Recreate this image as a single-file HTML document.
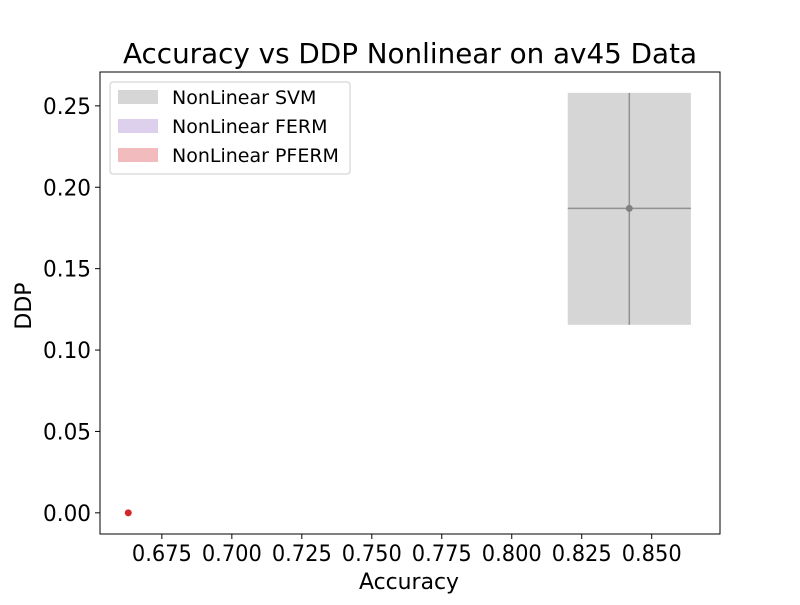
<!DOCTYPE html>
<html><head><meta charset="utf-8"><style>
body{margin:0;background:#fff;font-family:"Liberation Sans","DejaVu Sans",sans-serif}
</style></head><body>
<svg id="c" width="800" height="600" xmlns="http://www.w3.org/2000/svg" font-family="DejaVu Sans, Liberation Sans, sans-serif"></svg>
<script>
const xTicks=[0.675,0.700,0.725,0.750,0.775,0.800,0.825,0.850];
const xTickLabels=["0.675","0.700","0.725","0.750","0.775","0.800","0.825","0.850"];
const yTicks=[0,0.05,0.10,0.15,0.20,0.25];
const yTickLabels=["0.00","0.05","0.10","0.15","0.20","0.25"];
const seriesNames=["NonLinear SVM","NonLinear FERM","NonLinear PFERM"];
const seriesColors=["#d6d6d6","#dcd0ec","#f2bcbe"];
const meanAcc=[0.842,null,0.663];
const accLo=[0.820,null,0.663];
const accHi=[0.864,null,0.663];
const meanDdp=[0.187,null,0.0];
const ddpLo=[0.1155,null,0.0];
const ddpHi=[0.258,null,0.0];
const pointColors=["#808080",null,"#d62728"];

const L=100,R=720,T=72,B=534,xmin=0.6529,xmax=0.8744,ymin=-0.013,ymax=0.2708;
const sx=v=>L+(v-xmin)/(xmax-xmin)*(R-L);
const sy=v=>B-(v-ymin)/(ymax-ymin)*(B-T);
const svg=document.getElementById('c');
function mk(t,a,txt){const e=document.createElementNS('http://www.w3.org/2000/svg',t);for(const k in a)e.setAttribute(k,a[k]);if(txt!==undefined)e.textContent=txt;svg.appendChild(e);return e;}

for(let i=0;i<seriesNames.length;i++){
  if(meanAcc[i]===null)continue;
  const r=mk('rect',{x:sx(accLo[i]),y:sy(ddpHi[i]),width:sx(accHi[i])-sx(accLo[i]),height:sy(ddpLo[i])-sy(ddpHi[i]),fill:seriesColors[i]});
  
  
  if(accHi[i]>accLo[i]){
    const h=mk('line',{x1:sx(accLo[i]),x2:sx(accHi[i]),y1:sy(meanDdp[i]),y2:sy(meanDdp[i]),stroke:pointColors[i],'stroke-width':1.5,opacity:0.8});
    
    
    const v=mk('line',{x1:sx(meanAcc[i]),x2:sx(meanAcc[i]),y1:sy(ddpLo[i]),y2:sy(ddpHi[i]),stroke:pointColors[i],'stroke-width':1.5,opacity:0.8});
    
    
  }
  const c=mk('circle',{cx:sx(meanAcc[i]),cy:sy(meanDdp[i]),r:3.5,fill:pointColors[i]});
  
  
}

const ax=mk('rect',{x:L,y:T,width:R-L,height:B-T,fill:'none',stroke:'#000','stroke-width':1});


xTicks.forEach((t,i)=>{
  mk('line',{x1:sx(t),x2:sx(t),y1:B,y2:B+5,stroke:'#000'});
  const tx=mk('text',{x:sx(t),y:B+27,'text-anchor':'middle','font-size':22,textLength:60,lengthAdjust:'spacingAndGlyphs'},xTickLabels[i]);
  
  
});
yTicks.forEach((t,i)=>{
  mk('line',{x1:L-5,x2:L,y1:sy(t),y2:sy(t),stroke:'#000'});
  const tx=mk('text',{x:L-9,y:sy(t)+8,'text-anchor':'end','font-size':22,textLength:48,lengthAdjust:'spacingAndGlyphs'},yTickLabels[i]);
  
  
});
const ti=mk('text',{x:410,y:63,'text-anchor':'middle','font-size':28,textLength:574,lengthAdjust:'spacingAndGlyphs'},'Accuracy vs DDP Nonlinear on av45 Data');


const xl=mk('text',{x:409,y:589,'text-anchor':'middle','font-size':22,textLength:100,lengthAdjust:'spacingAndGlyphs'},'Accuracy');


const yl=mk('text',{x:31,y:306,'text-anchor':'middle','font-size':22,transform:'rotate(-90 31 306)'},'DDP');



const lg=mk('rect',{x:110,y:82,width:240,height:92,rx:3,fill:'#fff',stroke:'#ccc','fill-opacity':0.8});


seriesNames.forEach((n,i)=>{
  const y=97+i*29;
  const p=mk('rect',{x:118,y:y-7,width:40,height:14,fill:seriesColors[i]});
  
  
  const t=mk('text',{x:172,y:y+7,'font-size':19},n);
  
  
});
</script>
</body></html>
